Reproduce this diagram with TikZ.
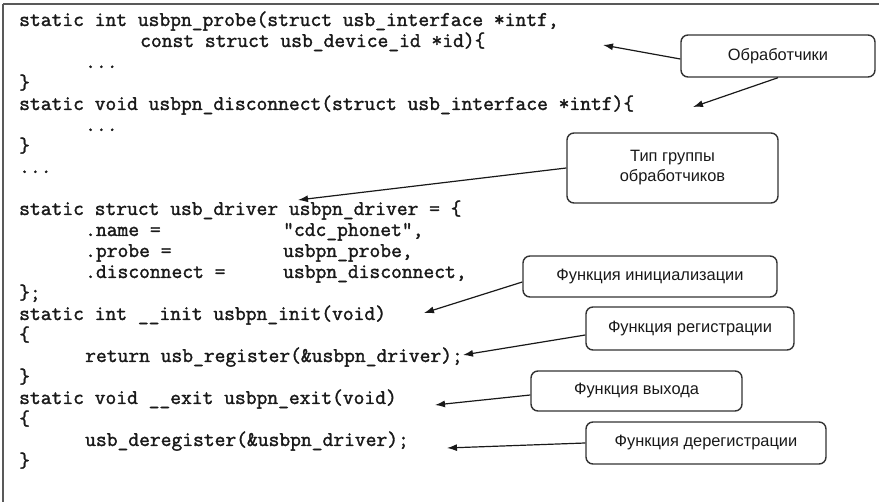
\documentclass[tikz,border=0pt]{standalone}
\usepackage{fontspec}
\setmainfont{Liberation Sans}
\newfontfamily\listingtt{Latin Modern Mono}[FakeBold=1.6]
\usetikzlibrary{arrows.meta}

\newcommand\codefont{\fontsize{20.95}{21}\selectfont\listingtt\bfseries}
\newcommand\notefont{\fontsize{16.4}{20}\selectfont\rmfamily}

\tikzset{
  x=1pt, y=-1pt,
  code/.style={anchor=base west, inner sep=0pt, font=\codefont, text=black!90},
  note/.style={draw=black!80, line width=1.4pt, rounded corners=7pt, fill=white,
               font=\notefont, inner sep=0pt, align=center, text=black!90},
  pointer/.style={draw=black!90, line width=1.2pt, -{Latex[length=10pt,width=7pt]}},
  frameline/.style={draw=black!65, line width=2.2pt},
}

% column c, row r of the listing
\newcommand\cx[1]{19+11*#1}
\newcommand\ry[1]{26+21*#1}

\begin{document}
\begin{tikzpicture}
\useasboundingbox (0,0) rectangle (879,502);
\fill[white] (0,0) rectangle (879,502);

% frame around the listing
\draw[frameline] (3,4) -- (879,4);
\draw[frameline] (3,4) -- (3,502);

% listing
\node[code] (c0)  at ({\cx{0}},{\ry{0}})  {static int usbpn\_probe(struct usb\_interface *intf,};
\node[code] (c1)  at ({\cx{11}},{\ry{1}}) {const struct usb\_device\_id *id)\{};
\node[code] (c2)  at ({\cx{6}},{\ry{2}})  {...};
\node[code] (c3)  at ({\cx{0}},{\ry{3}})  {\}};
\node[code] (c4)  at ({\cx{0}},{\ry{4}})  {static void usbpn\_disconnect(struct usb\_interface *intf)\{};
\node[code] (c5)  at ({\cx{6}},{\ry{5}})  {...};
\node[code] (c6)  at ({\cx{0}},{\ry{6}})  {\}};
\node[code] (c7)  at ({\cx{0}},{\ry{7}})  {...};
\node[code] (c9)  at ({\cx{0}},{\ry{9}})  {static struct usb\_driver usbpn\_driver = \{};
\node[code] (c10) at ({\cx{6}},{\ry{10}}) {.name =};
\node[code] (c10b) at ({\cx{24}},{\ry{10}}) {"cdc\_phonet",};
\node[code] (c11) at ({\cx{6}},{\ry{11}}) {.probe =};
\node[code] (c11b) at ({\cx{24}},{\ry{11}}) {usbpn\_probe,};
\node[code] (c12) at ({\cx{6}},{\ry{12}}) {.disconnect =};
\node[code] (c12b) at ({\cx{24}},{\ry{12}}) {usbpn\_disconnect,};
\node[code] (c13) at ({\cx{0}},{\ry{13}}) {\};};
\node[code] (c14) at ({\cx{0}},{\ry{14}}) {static int \_\_init usbpn\_init(void)};
\node[code] (c15) at ({\cx{0}},{\ry{15}}) {\{};
\node[code] (c16) at ({\cx{6}},{\ry{16}}) {return usb\_register(\&usbpn\_driver);};
\node[code] (c17) at ({\cx{0}},{\ry{17}}) {\}};
\node[code] (c18) at ({\cx{0}},{\ry{18}}) {static void \_\_exit usbpn\_exit(void)};
\node[code] (c19) at ({\cx{0}},{\ry{19}}) {\{};
\node[code] (c20) at ({\cx{6}},{\ry{20}}) {usb\_deregister(\&usbpn\_driver);};
\node[code] (c21) at ({\cx{0}},{\ry{21}}) {\}};

% callout boxes
\node[note, minimum width=194pt, minimum height=42pt] (handlers) at (778,56) {Обработчики};
\node[note, minimum width=211pt, minimum height=70pt] (group)    at (672.5,168) {Тип группы\\обработчиков};
\node[note, minimum width=254pt, minimum height=41pt] (init)     at (650,276.5) {Функция инициализации};
\node[note, minimum width=208pt, minimum height=43pt] (reg)      at (690,328.5) {Функция регистрации};
\node[note, minimum width=211pt, minimum height=40pt] (exit)     at (636.5,391) {Функция выхода};
\node[note, minimum width=240pt, minimum height=42pt] (dereg)    at (706,443) {Функция дерегистрации};

% arrow tips in the listing
\coordinate (t1) at (603,45);
\coordinate (t2) at (693,107);
\coordinate (t3) at (298,200);
\coordinate (t4) at (424,313);
\coordinate (t5) at (463,355);
\coordinate (t6) at (435,405);
\coordinate (t7) at (447,448);

\draw[pointer] ([yshift=-3pt]handlers.west) -- (t1);
\draw[pointer] (handlers.south) -- (t2);
\draw[pointer] (group.west) -- (t3);
\draw[pointer] ([yshift=-5.5pt]init.west) -- (t4);
\draw[pointer] ([yshift=-6.5pt]reg.west) -- (t5);
\draw[pointer] ([yshift=-4pt]exit.west) -- (t6);
\draw[pointer] (dereg.west) -- (t7);
\end{tikzpicture}
\end{document}
